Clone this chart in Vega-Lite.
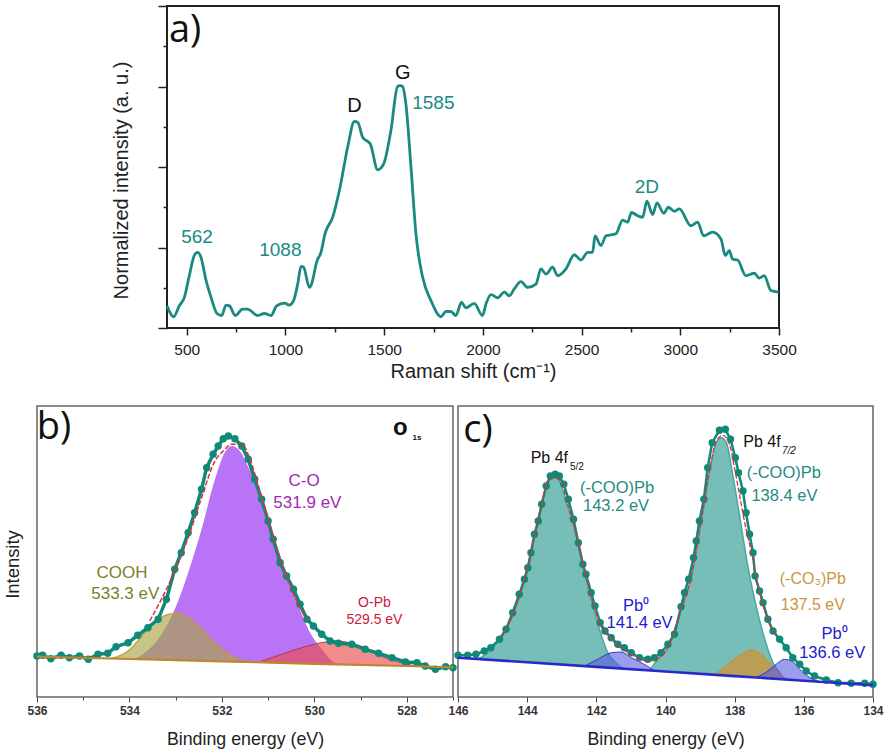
{
"$schema":"https://vega.github.io/schema/vega-lite/v6.json",
"background":"white",
"padding":{"left":2,"top":4,"right":0,"bottom":0},
"config":{"font":"Liberation Sans","axis":{"grid":false,"labelFont":"Liberation Sans","titleFont":"Liberation Sans","titleFontWeight":"normal"},"concat":{"spacing":0}},
"bounds":"flush",
"spacing":400,
"vconcat":[
{"bounds":"flush","spacing":0,"hconcat":[
{"width":130,"height":322,"view":{"stroke":null},"data":{"values":[]},"mark":"point"},
{"width":612,"height":322,"view":{"stroke":"#222","strokeWidth":2},
"layer":[
{"data":{"values":[{"x":400,"y":0.55},{"x":434,"y":0.28},{"x":462,"y":0.55},{"x":488,"y":0.76},{"x":513,"y":1.30},{"x":538,"y":1.80},{"x":555,"y":1.88},{"x":572,"y":1.76},{"x":598,"y":1.18},{"x":623,"y":0.76},{"x":653,"y":0.36},{"x":677,"y":0.31},{"x":699,"y":0.57},{"x":716,"y":0.55},{"x":746,"y":0.31},{"x":783,"y":0.47},{"x":808,"y":0.47},{"x":859,"y":0.31},{"x":893,"y":0.36},{"x":927,"y":0.31},{"x":955,"y":0.55},{"x":994,"y":0.62},{"x":1019,"y":0.57},{"x":1041,"y":0.68},{"x":1062,"y":1.09},{"x":1079,"y":1.53},{"x":1092,"y":1.51},{"x":1121,"y":1.01},{"x":1129,"y":1.05},{"x":1160,"y":1.67},{"x":1180,"y":1.88},{"x":1200,"y":2.34},{"x":1239,"y":2.75},{"x":1273,"y":3.41},{"x":1315,"y":4.49},{"x":1349,"y":5.13},{"x":1366,"y":5.11},{"x":1391,"y":4.74},{"x":1430,"y":4.57},{"x":1467,"y":3.93},{"x":1497,"y":4.07},{"x":1534,"y":4.90},{"x":1568,"y":6.0},{"x":1580,"y":6.02},{"x":1593,"y":6.0},{"x":1610,"y":5.57},{"x":1636,"y":3.99},{"x":1661,"y":2.34},{"x":1695,"y":1.26},{"x":1737,"y":0.68},{"x":1788,"y":0.28},{"x":1813,"y":0.41},{"x":1838,"y":0.41},{"x":1863,"y":0.31},{"x":1892,"y":0.64},{"x":1914,"y":0.50},{"x":1956,"y":0.61},{"x":1998,"y":0.31},{"x":2016,"y":0.60},{"x":2041,"y":0.83},{"x":2075,"y":0.75},{"x":2109,"y":0.89},{"x":2134,"y":0.80},{"x":2159,"y":0.97},{"x":2193,"y":1.15},{"x":2227,"y":1.01},{"x":2269,"y":1.09},{"x":2294,"y":1.47},{"x":2320,"y":1.34},{"x":2353,"y":1.51},{"x":2379,"y":1.30},{"x":2421,"y":1.47},{"x":2463,"y":1.82},{"x":2497,"y":1.69},{"x":2531,"y":1.88},{"x":2556,"y":1.88},{"x":2568,"y":2.29},{"x":2598,"y":2.05},{"x":2624,"y":2.29},{"x":2674,"y":2.34},{"x":2708,"y":2.68},{"x":2733,"y":2.63},{"x":2753,"y":2.87},{"x":2784,"y":2.79},{"x":2809,"y":2.75},{"x":2831,"y":3.15},{"x":2860,"y":2.82},{"x":2882,"y":3.11},{"x":2916,"y":2.85},{"x":2939,"y":3.0},{"x":2970,"y":2.90},{"x":2995,"y":2.96},{"x":3054,"y":2.54},{"x":3088,"y":2.63},{"x":3118,"y":2.29},{"x":3164,"y":2.38},{"x":3206,"y":2.21},{"x":3228,"y":1.80},{"x":3248,"y":1.92},{"x":3265,"y":1.71},{"x":3290,"y":1.69},{"x":3332,"y":1.30},{"x":3375,"y":1.36},{"x":3400,"y":1.24},{"x":3425,"y":1.30},{"x":3459,"y":0.93},{"x":3498,"y":0.89}]},
"mark":{"type":"line","color":"#1a8a80","strokeWidth":2.8,"interpolate":"monotone"},
"encoding":{
"x":{"field":"x","type":"quantitative","scale":{"domain":[400,3500],"nice":false,"zero":false},"axis":{"values":[500,750,1000,1250,1500,1750,2000,2250,2500,2750,3000,3250,3500],"labelExpr":"datum.value%500==0?datum.label:''","format":"d","labelFontSize":15.5,"labelColor":"#222","labelPadding":7,"labelOverlap":false,"labelBound":false,"labelFlush":false,"domain":false,"tickColor":"#222","tickWidth":1.5,"tickSize":{"condition":{"test":"datum.value%500==0","value":7},"value":4},"title":"Raman shift (cm⁻¹)","titleFontSize":20,"titleColor":"#222","titlePadding":4}},
"y":{"field":"y","type":"quantitative","scale":{"domain":[0,8],"nice":false,"zero":false},"axis":{"values":[0,1,2,3,4,5,6,7,8],"labels":false,"domain":false,"tickColor":"#222","tickWidth":1.5,"tickSize":{"condition":{"test":"datum.value%2==0","value":9},"value":4},"title":"Normalized intensity (a. u.)","titleFontSize":20,"titleColor":"#222","titleX":-36,"titleY":174}}
}},
{"data":{"values":[{"x":552,"y":2.25,"t":"562"},{"x":974,"y":1.94,"t":"1088"},{"x":1749,"y":5.6,"t":"1585"},{"x":2831,"y":3.51,"t":"2D"}]},"mark":{"type":"text","color":"#1a8a85","fontSize":19},"encoding":{"x":{"field":"x","type":"quantitative"},"y":{"field":"y","type":"quantitative"},"text":{"field":"t"}}},
{"data":{"values":[{"x":1349,"y":5.51,"t":"D"},{"x":1594,"y":6.34,"t":"G"}]},"mark":{"type":"text","color":"#111","fontSize":20},"encoding":{"x":{"field":"x","type":"quantitative"},"y":{"field":"y","type":"quantitative"},"text":{"field":"t"}}},
{"data":{"values":[{"x":492,"y":7.39,"t":"a)"}]},"mark":{"type":"text","color":"#111","fontSize":38,"font":"Open Sans"},"encoding":{"x":{"field":"x","type":"quantitative"},"y":{"field":"y","type":"quantitative"},"text":{"field":"t"}}}
]}
]},
{"bounds":"flush","spacing":5,"hconcat":[
{"width":416,"height":291,"view":{"stroke":"#666","strokeWidth":1.5},
"layer":[
{"data":{"values":[{"x":533.89,"y":37.8,"b":37.8},{"x":533.67,"y":44.3,"b":37.6},{"x":533.38,"y":57.7,"b":37.2},{"x":533.02,"y":87.7,"b":36.8},{"x":532.73,"y":124.3,"b":36.5},{"x":532.44,"y":167.7,"b":36.1},{"x":532.15,"y":217.7,"b":35.8},{"x":531.94,"y":244.3,"b":35.5},{"x":531.79,"y":251,"b":35.3},{"x":531.61,"y":246,"b":35.1},{"x":531.39,"y":226,"b":34.9},{"x":531.07,"y":187.7,"b":34.5},{"x":530.71,"y":137.7,"b":34.1},{"x":530.42,"y":101,"b":33.7},{"x":530.13,"y":67.7,"b":33.4},{"x":529.84,"y":47.7,"b":33.1},{"x":529.55,"y":34.3,"b":32.7},{"x":529.33,"y":32.5,"b":32.5}]},
"mark":{"type":"area","color":"#b56cf5","opacity":0.95,"interpolate":"monotone"},
"encoding":{
"x":{"field":"x","type":"quantitative","scale":{"domain":[536,527],"nice":false,"zero":false},"axis":{"values":[536,535,534,533,532,531,530,529,528,527],"labelExpr":"datum.value%2==0?datum.label:''","format":"d","labelFontSize":12,"labelFontWeight":"bold","labelColor":"#333","labelPadding":3,"labelOverlap":false,"labelBound":false,"labelFlush":false,"domain":false,"tickColor":"#444","tickWidth":1,"tickSize":{"condition":{"test":"datum.value%2==0","value":5},"value":3},"title":"Binding energy (eV)","titleFontSize":17.8,"titleColor":"#222","titlePadding":14}},
"y":{"field":"y","type":"quantitative","scale":{"domain":[0,291],"nice":false,"zero":false},"axis":{"labels":false,"ticks":false,"domain":false,"title":"Intensity","titleFontSize":18.4,"titleColor":"#222","titleX":-15,"titleY":158}},
"y2":{"field":"b"}
}},
{"data":{"values":[{"x":534.39,"y":38.4,"b":38.4},{"x":534.03,"y":46,"b":38},{"x":533.67,"y":64.3,"b":37.6},{"x":533.38,"y":77.7,"b":37.2},{"x":533.02,"y":83.7,"b":36.8},{"x":532.73,"y":79.3,"b":36.5},{"x":532.44,"y":67.7,"b":36.1},{"x":532.08,"y":51,"b":35.7},{"x":531.72,"y":39.3,"b":35.3},{"x":531.36,"y":34.8,"b":34.8}]},
"mark":{"type":"area","color":"#a8a645","opacity":0.65,"interpolate":"monotone","line":{"color":"#c99a2e","strokeWidth":1.2}},
"encoding":{"x":{"field":"x","type":"quantitative"},"y":{"field":"y","type":"quantitative"},"y2":{"field":"b"}}},
{"data":{"values":[{"x":531.21,"y":34.7,"b":34.7},{"x":530.71,"y":42.7,"b":34.1},{"x":530.27,"y":49.3,"b":33.6},{"x":529.91,"y":53.7,"b":33.1},{"x":529.55,"y":56,"b":32.7},{"x":529.19,"y":53.7,"b":32.3},{"x":528.83,"y":47.7,"b":31.9},{"x":528.47,"y":39.3,"b":31.4},{"x":528.11,"y":34.3,"b":31},{"x":527.81,"y":30.7,"b":30.7}]},
"mark":{"type":"area","color":"#e8504f","opacity":0.65,"interpolate":"monotone","line":{"color":"#c0304a","strokeWidth":1}},
"encoding":{"x":{"field":"x","type":"quantitative"},"y":{"field":"y","type":"quantitative"},"y2":{"field":"b"}}},
{"data":{"values":[{"x":536,"y":41},{"x":535.88,"y":41.7},{"x":535.7,"y":38.3},{"x":535.48,"y":41.7},{"x":535.3,"y":39.3},{"x":535.08,"y":41},{"x":534.89,"y":37.7},{"x":534.68,"y":42.7},{"x":534.47,"y":43.7},{"x":534.29,"y":50.3},{"x":534.03,"y":54.3},{"x":533.82,"y":61.7},{"x":533.6,"y":69.3},{"x":533.38,"y":77.7},{"x":533.2,"y":97.7},{"x":533.02,"y":127.7},{"x":532.88,"y":144.3},{"x":532.73,"y":164.3},{"x":532.59,"y":184.3},{"x":532.44,"y":207.7},{"x":532.33,"y":229.3},{"x":532.19,"y":242.7},{"x":532.08,"y":251},{"x":531.97,"y":258.3},{"x":531.86,"y":261},{"x":531.72,"y":258.3},{"x":531.57,"y":251},{"x":531.43,"y":237.7},{"x":531.29,"y":217.7},{"x":531.14,"y":197.7},{"x":531,"y":176},{"x":530.89,"y":157.7},{"x":530.74,"y":134.3},{"x":530.6,"y":121},{"x":530.45,"y":107.7},{"x":530.31,"y":92.7},{"x":530.16,"y":77.7},{"x":530.02,"y":71},{"x":529.84,"y":62.7},{"x":529.66,"y":56},{"x":529.48,"y":53.7},{"x":529.19,"y":52.7},{"x":528.9,"y":47.7},{"x":528.61,"y":43.7},{"x":528.32,"y":39.3},{"x":528.03,"y":35},{"x":527.78,"y":34.3},{"x":527.6,"y":31},{"x":527.38,"y":27.7},{"x":527.16,"y":30.3},{"x":527,"y":29.3}]},
"mark":{"type":"line","color":"#0f8a78","strokeWidth":3.5,"point":{"filled":true,"size":55,"color":"#0f8a78","opacity":1}},
"encoding":{"x":{"field":"x","type":"quantitative"},"y":{"field":"y","type":"quantitative"}}},
{"data":{"values":[{"x":533.56,"y":76},{"x":533.31,"y":97.7},{"x":533.02,"y":126},{"x":532.73,"y":159.3},{"x":532.44,"y":199.3},{"x":532.15,"y":236},{"x":531.97,"y":246},{"x":531.79,"y":252.7},{"x":531.57,"y":252.7},{"x":531.39,"y":237.7},{"x":531.21,"y":211},{"x":531,"y":177.7},{"x":530.78,"y":144.3},{"x":530.56,"y":116},{"x":530.35,"y":92.7},{"x":530.16,"y":77.7}]},
"mark":{"type":"line","color":"#e0303a","strokeWidth":1.5,"strokeDash":[5,2],"interpolate":"monotone"},
"encoding":{"x":{"field":"x","type":"quantitative"},"y":{"field":"y","type":"quantitative"}}},
{"data":{"values":[{"x":536,"y":40.3},{"x":534,"y":38},{"x":532,"y":35.7},{"x":530,"y":33.2},{"x":528,"y":31},{"x":527,"y":29.7}]},
"mark":{"type":"line","color":"#c0852f","strokeWidth":2.2},
"encoding":{"x":{"field":"x","type":"quantitative"},"y":{"field":"y","type":"quantitative"}}},
{"data":{"values":[{"x":530.22,"y":216,"t":"C-O"},{"x":530.15,"y":194.3,"t":"531.9 eV"}]},"mark":{"type":"text","color":"#a228b4","fontSize":17},"encoding":{"x":{"field":"x","type":"quantitative"},"y":{"field":"y","type":"quantitative"},"text":{"field":"t"}}},
{"data":{"values":[{"x":534.16,"y":124.3,"t":"COOH"},{"x":534.09,"y":102.7,"t":"533.3 eV"}]},"mark":{"type":"text","color":"#7f7d2a","fontSize":17},"encoding":{"x":{"field":"x","type":"quantitative"},"y":{"field":"y","type":"quantitative"},"text":{"field":"t"}}},
{"data":{"values":[{"x":528.7,"y":94.3,"t":"O-Pb"},{"x":528.7,"y":77,"t":"529.5 eV"}]},"mark":{"type":"text","color":"#c8203a","fontSize":14},"encoding":{"x":{"field":"x","type":"quantitative"},"y":{"field":"y","type":"quantitative"},"text":{"field":"t"}}},
{"data":{"values":[{"x":535.63,"y":269,"t":"b)"}]},"mark":{"type":"text","color":"#111","fontSize":38,"font":"Open Sans"},"encoding":{"x":{"field":"x","type":"quantitative"},"y":{"field":"y","type":"quantitative"},"text":{"field":"t"}}},
{"data":{"values":[{"x":528.14,"y":268.7,"t":"o"}]},"mark":{"type":"text","color":"#111","fontSize":24,"fontWeight":"bold"},"encoding":{"x":{"field":"x","type":"quantitative"},"y":{"field":"y","type":"quantitative"},"text":{"field":"t"}}},
{"data":{"values":[{"x":527.78,"y":259,"t":"1s"}]},"mark":{"type":"text","color":"#111","fontSize":8,"fontWeight":"bold"},"encoding":{"x":{"field":"x","type":"quantitative"},"y":{"field":"y","type":"quantitative"},"text":{"field":"t"}}}
]},
{"width":415,"height":291,"view":{"stroke":"#666","strokeWidth":1.5},
"layer":[
{"data":{"values":[{"x":145.43,"y":38,"b":38},{"x":145.24,"y":41.7,"b":37.5},{"x":144.76,"y":59.3,"b":36.4},{"x":144.42,"y":81,"b":35.6},{"x":144.08,"y":116,"b":34.9},{"x":143.79,"y":161,"b":34.2},{"x":143.55,"y":197.7,"b":33.6},{"x":143.36,"y":217.7,"b":33.2},{"x":143.21,"y":219.3,"b":32.9},{"x":143.07,"y":216,"b":32.5},{"x":142.87,"y":194.3,"b":32.1},{"x":142.63,"y":167.7,"b":31.5},{"x":142.39,"y":131,"b":31},{"x":142.15,"y":97.7,"b":30.4},{"x":141.91,"y":67.7,"b":29.8},{"x":141.67,"y":44.3,"b":29.3},{"x":141.38,"y":32.7,"b":28.6},{"x":141.23,"y":28.3,"b":28.3}]},
"mark":{"type":"area","color":"#5fb3ab","opacity":0.85,"interpolate":"monotone","line":{"color":"#4aa8a0","strokeWidth":1.5}},
"encoding":{
"x":{"field":"x","type":"quantitative","scale":{"domain":[146,134],"nice":false,"zero":false},"axis":{"values":[146,145,144,143,142,141,140,139,138,137,136,135,134],"labelExpr":"datum.value%2==0?datum.label:''","format":"d","labelFontSize":12,"labelFontWeight":"bold","labelColor":"#333","labelPadding":3,"labelOverlap":false,"labelBound":false,"labelFlush":false,"domain":false,"tickColor":"#444","tickWidth":1,"tickSize":{"condition":{"test":"datum.value%2==0","value":5},"value":3},"title":"Binding energy (eV)","titleFontSize":17.8,"titleColor":"#222","titlePadding":14}},
"y":{"field":"y","type":"quantitative","scale":{"domain":[0,291],"nice":false,"zero":false},"axis":null},
"y2":{"field":"b"}
}},
{"data":{"values":[{"x":140.46,"y":26.6,"b":26.6},{"x":140.22,"y":37.7,"b":26},{"x":139.93,"y":49.3,"b":25.3},{"x":139.55,"y":87.7,"b":24.5},{"x":139.26,"y":119.3,"b":23.8},{"x":138.97,"y":174.3,"b":23.1},{"x":138.73,"y":224.3,"b":22.6},{"x":138.53,"y":254.3,"b":22.1},{"x":138.39,"y":259.3,"b":21.8},{"x":138.24,"y":254.3,"b":21.5},{"x":138.05,"y":221,"b":21},{"x":137.81,"y":171,"b":20.5},{"x":137.62,"y":131,"b":20},{"x":137.38,"y":91,"b":19.5},{"x":137.13,"y":57.7,"b":18.9},{"x":136.89,"y":34.3,"b":18.3},{"x":136.7,"y":24.3,"b":17.9},{"x":136.56,"y":17.6,"b":17.6}]},
"mark":{"type":"area","color":"#5fb3ab","opacity":0.85,"interpolate":"monotone","line":{"color":"#4aa8a0","strokeWidth":1.5}},
"encoding":{"x":{"field":"x","type":"quantitative"},"y":{"field":"y","type":"quantitative"},"y2":{"field":"b"}}},
{"data":{"values":[{"x":142.34,"y":30.9,"b":30.9},{"x":141.96,"y":37.7,"b":30},{"x":141.57,"y":44.3,"b":29.1},{"x":141.28,"y":45,"b":28.5},{"x":140.99,"y":39.3,"b":27.8},{"x":140.7,"y":34.3,"b":27.1},{"x":140.32,"y":26.3,"b":26.3}]},
"mark":{"type":"area","color":"#5a58e0","opacity":0.6,"interpolate":"monotone","line":{"color":"#3a38c8","strokeWidth":1}},
"encoding":{"x":{"field":"x","type":"quantitative"},"y":{"field":"y","type":"quantitative"},"y2":{"field":"b"}}},
{"data":{"values":[{"x":138.58,"y":22.2,"b":22.2},{"x":138.2,"y":32.7,"b":21.4},{"x":137.81,"y":42.7,"b":20.5},{"x":137.52,"y":47,"b":19.8},{"x":137.28,"y":44.3,"b":19.3},{"x":136.99,"y":34.3,"b":18.6},{"x":136.7,"y":22.7,"b":17.9},{"x":136.46,"y":17.3,"b":17.3}]},
"mark":{"type":"area","color":"#c9963c","opacity":0.8,"interpolate":"monotone","line":{"color":"#c98f2a","strokeWidth":1}},
"encoding":{"x":{"field":"x","type":"quantitative"},"y":{"field":"y","type":"quantitative"},"y2":{"field":"b"}}},
{"data":{"values":[{"x":137.38,"y":19.5,"b":19.5},{"x":137.04,"y":26,"b":18.7},{"x":136.8,"y":32.7,"b":18.1},{"x":136.56,"y":37.7,"b":17.6},{"x":136.32,"y":35.3,"b":17},{"x":136.07,"y":26,"b":16.4},{"x":135.74,"y":17.7,"b":15.6},{"x":135.49,"y":15,"b":15}]},
"mark":{"type":"area","color":"#5a58e0","opacity":0.6,"interpolate":"monotone","line":{"color":"#3a38c8","strokeWidth":1}},
"encoding":{"x":{"field":"x","type":"quantitative"},"y":{"field":"y","type":"quantitative"},"y2":{"field":"b"}}},
{"data":{"values":[{"x":146,"y":41.7},{"x":145.72,"y":41.7},{"x":145.48,"y":42.7},{"x":145.24,"y":46},{"x":145.05,"y":49.3},{"x":144.8,"y":57.7},{"x":144.61,"y":67.7},{"x":144.42,"y":84.3},{"x":144.23,"y":102.7},{"x":144.08,"y":117.7},{"x":143.98,"y":129.3},{"x":143.89,"y":144.3},{"x":143.79,"y":162.7},{"x":143.68,"y":176},{"x":143.58,"y":192.7},{"x":143.45,"y":211},{"x":143.33,"y":221},{"x":143.19,"y":222.7},{"x":143.07,"y":221},{"x":142.94,"y":212.7},{"x":142.81,"y":197.7},{"x":142.66,"y":177.7},{"x":142.52,"y":154.3},{"x":142.39,"y":132.7},{"x":142.3,"y":122.7},{"x":142.15,"y":104.3},{"x":142.04,"y":91},{"x":141.89,"y":74.3},{"x":141.75,"y":66},{"x":141.57,"y":59.3},{"x":141.38,"y":52.7},{"x":141.19,"y":49.3},{"x":140.99,"y":44.3},{"x":140.75,"y":39.3},{"x":140.51,"y":37.7},{"x":140.32,"y":39.3},{"x":140.13,"y":44.3},{"x":139.93,"y":52.7},{"x":139.74,"y":62.7},{"x":139.55,"y":90.3},{"x":139.45,"y":104.3},{"x":139.33,"y":117.7},{"x":139.19,"y":139.3},{"x":139.11,"y":156},{"x":139.02,"y":176},{"x":138.89,"y":197.7},{"x":138.78,"y":229.3},{"x":138.65,"y":254.3},{"x":138.44,"y":266.7},{"x":138.27,"y":267.7},{"x":138.12,"y":257.7},{"x":137.98,"y":239.3},{"x":137.89,"y":224.3},{"x":137.76,"y":206},{"x":137.67,"y":184.3},{"x":137.57,"y":162.7},{"x":137.47,"y":144.3},{"x":137.41,"y":121},{"x":137.28,"y":106},{"x":137.18,"y":94.3},{"x":137.04,"y":77.7},{"x":136.89,"y":66},{"x":136.7,"y":57.7},{"x":136.51,"y":49.3},{"x":136.32,"y":39.3},{"x":136.12,"y":32.7},{"x":135.93,"y":26},{"x":135.69,"y":21},{"x":135.35,"y":17},{"x":135.01,"y":14.3},{"x":134.63,"y":13.7},{"x":134.24,"y":13.7},{"x":134,"y":12.7}]},
"mark":{"type":"line","color":"#0f8a78","strokeWidth":2.5,"point":{"filled":true,"size":55,"color":"#0f8a78","opacity":1}},
"encoding":{"x":{"field":"x","type":"quantitative"},"y":{"field":"y","type":"quantitative"}}},
{"data":{"values":[{"x":144.76,"y":59.3},{"x":144.42,"y":82.7},{"x":144.08,"y":117.7},{"x":143.79,"y":161},{"x":143.58,"y":192.7},{"x":143.41,"y":216},{"x":143.21,"y":219.3},{"x":143.02,"y":216},{"x":142.87,"y":197.7},{"x":142.63,"y":169.3},{"x":142.39,"y":134.3},{"x":142.15,"y":101},{"x":141.89,"y":72.7},{"x":141.57,"y":57.7},{"x":140.99,"y":42.7},{"x":140.51,"y":36},{"x":140.03,"y":44.3},{"x":139.55,"y":87.7},{"x":139.26,"y":119.3},{"x":138.97,"y":176},{"x":138.73,"y":226},{"x":138.53,"y":256},{"x":138.34,"y":261.7},{"x":138.15,"y":252.7},{"x":137.96,"y":221},{"x":137.71,"y":174.3},{"x":137.47,"y":137.7},{"x":137.28,"y":104.3},{"x":137.04,"y":77.7},{"x":136.8,"y":61}]},
"mark":{"type":"line","color":"#e0303a","strokeWidth":1.3,"strokeDash":[5,2],"interpolate":"monotone"},
"encoding":{"x":{"field":"x","type":"quantitative"},"y":{"field":"y","type":"quantitative"}}},
{"data":{"values":[{"x":146,"y":39.3},{"x":144,"y":34.7},{"x":142,"y":30.1},{"x":140,"y":25.5},{"x":138,"y":20.9},{"x":136,"y":16.3},{"x":134,"y":11.7}]},
"mark":{"type":"line","color":"#2a2ac8","strokeWidth":2.6},
"encoding":{"x":{"field":"x","type":"quantitative"},"y":{"field":"y","type":"quantitative"}}},
{"data":{"values":[{"x":143.36,"y":239.3,"t":"Pb 4f"},{"x":137.21,"y":255.3,"t":"Pb 4f"}]},"mark":{"type":"text","color":"#111","fontSize":16},"encoding":{"x":{"field":"x","type":"quantitative"},"y":{"field":"y","type":"quantitative"},"text":{"field":"t"}}},
{"data":{"values":[{"x":142.56,"y":230.3,"t":"5/2"}]},"mark":{"type":"text","color":"#111","fontSize":10},"encoding":{"x":{"field":"x","type":"quantitative"},"y":{"field":"y","type":"quantitative"},"text":{"field":"t"}}},
{"data":{"values":[{"x":136.43,"y":246,"t":"7/2"}]},"mark":{"type":"text","color":"#111","fontSize":10,"fontStyle":"italic"},"encoding":{"x":{"field":"x","type":"quantitative"},"y":{"field":"y","type":"quantitative"},"text":{"field":"t"}}},
{"data":{"values":[{"x":141.4,"y":209.3,"t":"(-COO)Pb"},{"x":141.43,"y":191,"t":"143.2 eV"},{"x":136.58,"y":223.7,"t":"(-COO)Pb"},{"x":136.56,"y":201,"t":"138.4 eV"}]},"mark":{"type":"text","color":"#1f8a82","fontSize":16.5},"encoding":{"x":{"field":"x","type":"quantitative"},"y":{"field":"y","type":"quantitative"},"text":{"field":"t"}}},
{"data":{"values":[{"x":135.74,"y":117.7,"t":"(-CO₃)Pb"},{"x":135.74,"y":91.7,"t":"137.5 eV"}]},"mark":{"type":"text","color":"#c9963f","fontSize":16},"encoding":{"x":{"field":"x","type":"quantitative"},"y":{"field":"y","type":"quantitative"},"text":{"field":"t"}}},
{"data":{"values":[{"x":140.85,"y":91.5,"t":"Pb⁰"},{"x":140.75,"y":74.3,"t":"141.4 eV"},{"x":135.11,"y":63,"t":"Pb⁰"},{"x":135.18,"y":44.3,"t":"136.6 eV"}]},"mark":{"type":"text","color":"#2020d0","fontSize":16.5},"encoding":{"x":{"field":"x","type":"quantitative"},"y":{"field":"y","type":"quantitative"},"text":{"field":"t"}}},
{"data":{"values":[{"x":145.42,"y":266,"t":"c)"}]},"mark":{"type":"text","color":"#111","fontSize":38,"font":"Open Sans"},"encoding":{"x":{"field":"x","type":"quantitative"},"y":{"field":"y","type":"quantitative"},"text":{"field":"t"}}}
]}
]}
]
}
